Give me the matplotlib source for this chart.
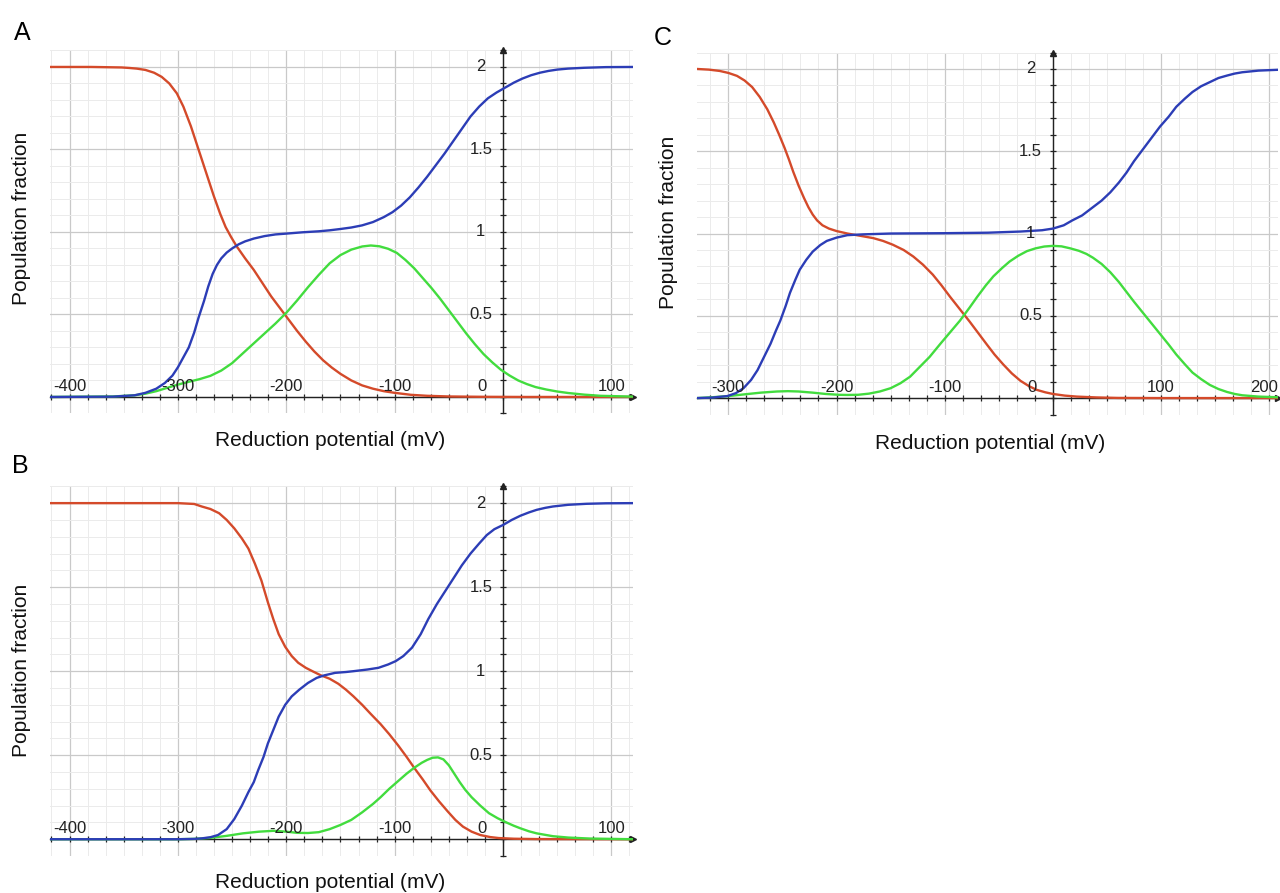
import matplotlib
matplotlib.use("Agg")
import matplotlib.pyplot as plt
from matplotlib.ticker import MultipleLocator

plt.rcParams['font.family'] = ['Liberation Sans', 'DejaVu Sans']

# ---- panel A ----
red_a_x = [-418, -380, -352, -345, -338, -330, -322, -315, -308, -301, -295, -288, -281, -274,
           -267, -261, -256, -251, -246, -238, -230, -222, -214, -206, -198, -190, -182, -174,
           -166, -158, -150, -140, -130, -120, -110, -100, -85, -70, -50, -20, 20, 120]
red_a_y = [2.0, 2.0, 1.997, 1.994, 1.99, 1.982, 1.965, 1.94, 1.90, 1.84, 1.76, 1.64, 1.50, 1.36,
           1.22, 1.11, 1.03, 0.97, 0.915, 0.84, 0.77, 0.69, 0.61, 0.54, 0.47, 0.40, 0.335,
           0.275, 0.222, 0.178, 0.14, 0.10, 0.07, 0.05, 0.035, 0.025, 0.013, 0.007, 0.003,
           0.001, 0.0, 0.0]

blue_a_x = [-418, -360, -340, -330, -320, -312, -305, -300, -295, -290, -285, -281, -276, -272,
            -268, -264, -260, -255, -250, -244, -238, -230, -220, -210, -200, -185, -170, -160,
            -150, -140, -130, -120, -110, -102, -94, -86, -78, -70, -62, -54, -46, -38, -30, -22,
            -14, -6, 2, 10, 18, 26, 34, 42, 50, 60, 75, 95, 120]
blue_a_y = [0.0, 0.002, 0.01, 0.025, 0.05, 0.085, 0.13, 0.18, 0.24, 0.30, 0.39, 0.48, 0.58, 0.67,
            0.745, 0.80, 0.84, 0.875, 0.90, 0.925, 0.943, 0.96, 0.975, 0.985, 0.99, 0.998, 1.004,
            1.01, 1.018, 1.027, 1.04, 1.06, 1.09, 1.12, 1.16, 1.21, 1.27, 1.335, 1.405, 1.475,
            1.55, 1.625, 1.70, 1.76, 1.81, 1.845, 1.875, 1.905, 1.93, 1.95, 1.965, 1.976, 1.984,
            1.99, 1.995, 1.999, 2.0]

green_a_x = [-418, -360, -340, -330, -320, -310, -300, -290, -280, -270, -260, -250, -240, -230,
             -220, -210, -200, -190, -180, -170, -160, -150, -140, -130, -122, -114, -106, -98,
             -90, -82, -74, -66, -58, -50, -42, -34, -26, -18, -10, -2, 6, 14, 22, 30, 40, 50,
             60, 75, 90, 120]
green_a_y = [0.0, 0.003, 0.01, 0.02, 0.035, 0.055, 0.075, 0.092, 0.108, 0.128, 0.16, 0.205, 0.265,
             0.325, 0.385, 0.445, 0.51, 0.585, 0.665, 0.74, 0.81, 0.86, 0.893, 0.912, 0.918,
             0.913, 0.898, 0.873, 0.83, 0.78, 0.72, 0.66, 0.595, 0.525, 0.455, 0.385, 0.32, 0.26,
             0.21, 0.165, 0.13, 0.10, 0.078, 0.06, 0.045, 0.033, 0.024, 0.014, 0.007, 0.002]

# ---- panel B ----
red_b_x = [-418, -300, -285, -278, -270, -262, -255, -248, -241, -235, -229, -223, -217, -212,
           -207, -201, -195, -189, -182, -175, -168, -160, -152, -145, -138, -130, -122, -113,
           -105, -97, -89, -82, -74, -67, -59, -51, -44, -37, -29, -21, -12, -4, 10, 30, 120]
red_b_y = [2.0, 2.0, 1.995, 1.98, 1.965, 1.94, 1.90, 1.85, 1.79, 1.73, 1.64, 1.54, 1.41, 1.31,
           1.22, 1.145, 1.09, 1.05, 1.02, 0.997, 0.975, 0.955, 0.925, 0.89, 0.85, 0.80, 0.745,
           0.685, 0.625, 0.56, 0.49, 0.425, 0.355, 0.29, 0.225, 0.165, 0.115, 0.075, 0.045,
           0.025, 0.013, 0.007, 0.003, 0.001, 0.0]

blue_b_x = [-418, -300, -285, -278, -270, -263, -255, -248, -241, -235, -230, -226, -221, -217,
            -212, -207, -201, -195, -188, -180, -172, -165, -155, -145, -138, -125, -115, -106,
            -99, -92, -84, -76, -69, -61, -54, -46, -38, -30, -22, -15, -8, 0, 8, 16, 24, 31, 39,
            46, 60, 77, 95, 120]
blue_b_y = [0.0, 0.0, 0.002, 0.005, 0.012, 0.025, 0.06, 0.12, 0.20, 0.28, 0.34, 0.41, 0.49, 0.57,
            0.65, 0.73, 0.80, 0.85, 0.89, 0.93, 0.96, 0.975, 0.99, 0.995, 1.0, 1.01, 1.02, 1.04,
            1.06, 1.09, 1.14, 1.22, 1.31, 1.40, 1.47, 1.55, 1.63, 1.70, 1.76, 1.81, 1.845, 1.87,
            1.90, 1.925, 1.945, 1.96, 1.972, 1.98, 1.99, 1.996, 1.999, 2.0]

green_b_x = [-418, -300, -285, -270, -255, -240, -225, -212, -200, -190, -180, -170, -160, -150,
             -140, -130, -120, -113, -105, -97, -89, -82, -75, -70, -65, -60, -55, -50, -45, -40,
             -35, -29, -21, -13, -5, 3, 10, 16, 24, 31, 46, 60, 80, 120]
green_b_y = [0.0, 0.0, 0.002, 0.008, 0.02, 0.035, 0.045, 0.05, 0.045, 0.038, 0.037, 0.042, 0.06,
             0.085, 0.115, 0.16, 0.21, 0.25, 0.30, 0.345, 0.39, 0.425, 0.455, 0.472, 0.485,
             0.487, 0.475, 0.44, 0.39, 0.34, 0.295, 0.25, 0.20, 0.155, 0.125, 0.10, 0.08, 0.065,
             0.047, 0.035, 0.018, 0.01, 0.004, 0.0]

# ---- panel C ----
red_c_x = [-329, -318, -308, -300, -292, -285, -278, -271, -264, -258, -253, -248, -244, -240,
           -235, -230, -226, -222, -218, -213, -207, -200, -190, -178, -166, -157, -148, -138,
           -129, -120, -111, -103, -95, -86, -77, -69, -61, -54, -46, -38, -30, -22, -15, -7, 0,
           11, 22, 40, 60, 100, 208]
red_c_y = [2.0, 1.996, 1.988, 1.976, 1.958, 1.93, 1.89, 1.83, 1.755, 1.675, 1.60, 1.52, 1.45,
           1.375, 1.29, 1.215, 1.16, 1.115, 1.08, 1.05, 1.03, 1.015, 1.0, 0.986, 0.972, 0.955,
           0.932, 0.90, 0.86, 0.81, 0.75, 0.685, 0.615, 0.54, 0.465, 0.395, 0.325, 0.265, 0.205,
           0.15, 0.105, 0.072, 0.05, 0.035, 0.025, 0.015, 0.009, 0.004, 0.001, 0.0, 0.0]

blue_c_x = [-329, -315, -301, -293, -286, -279, -273, -267, -261, -256, -252, -247, -243, -238,
            -234, -228, -222, -215, -209, -200, -190, -175, -150, -100, -60, -30, -10, 0, 10, 18,
            27, 37, 45, 53, 61, 68, 75, 83, 91, 99, 107, 114, 122, 129, 137, 145, 153, 161, 168,
            175, 190, 208]
blue_c_y = [0.0, 0.003, 0.012, 0.03, 0.06, 0.11, 0.17, 0.25, 0.33, 0.41, 0.47, 0.56, 0.64, 0.72,
            0.78, 0.84, 0.89, 0.93, 0.955, 0.975, 0.99, 0.995, 1.0, 1.002, 1.005, 1.012, 1.02,
            1.03, 1.05, 1.08, 1.11, 1.16, 1.20, 1.25, 1.31, 1.37, 1.44, 1.51, 1.58, 1.65, 1.71,
            1.77, 1.82, 1.86, 1.895, 1.92, 1.945, 1.96, 1.972, 1.98, 1.99, 1.995]

green_c_x = [-329, -315, -300, -286, -270, -255, -245, -235, -222, -210, -198, -190, -180, -170,
             -160, -150, -141, -132, -123, -114, -104, -95, -86, -77, -70, -62, -55, -47, -40,
             -32, -24, -16, -8, 0, 8, 16, 24, 31, 37, 45, 53, 61, 68, 75, 83, 91, 99, 107, 114,
             122, 129, 137, 145, 153, 161, 168, 175, 190, 208]
green_c_y = [0.0, 0.005, 0.012, 0.022, 0.033, 0.04, 0.042, 0.04, 0.033, 0.025, 0.02, 0.019, 0.02,
             0.027, 0.04, 0.06, 0.09, 0.13, 0.19, 0.25, 0.33, 0.40, 0.47, 0.55, 0.615, 0.685,
             0.74, 0.79, 0.83, 0.865, 0.893, 0.91, 0.921, 0.925, 0.922, 0.91, 0.895, 0.876,
             0.853, 0.815, 0.765, 0.705, 0.645, 0.585, 0.52, 0.455, 0.39, 0.325, 0.265, 0.205,
             0.155, 0.115, 0.08, 0.055, 0.037, 0.025, 0.017, 0.009, 0.005]

xlabels_ab = [-400, -300, -200, -100, 0, 100]
xlabels_c = [-300, -200, -100, 0, 100, 200]
ylabels = [0.5, 1, 1.5, 2]

RED = '#d44a2a'
BLUE = '#2c3db6'
GREEN = '#42dc3e'


def draw_panel(ax, xlim, reds, blues, greens, xlabels):
    ax.set_xlim(*xlim)
    ax.set_ylim(-0.1, 2.1)
    ax.xaxis.set_major_locator(MultipleLocator(100))
    ax.xaxis.set_minor_locator(MultipleLocator(100 / 6))
    ax.yaxis.set_major_locator(MultipleLocator(0.5))
    ax.yaxis.set_minor_locator(MultipleLocator(0.1))
    ax.grid(which='major', color='#c9c9c9', lw=0.9)
    ax.grid(which='minor', color='#ebebeb', lw=0.7)
    ax.set_axisbelow(True)

    # axes through the origin
    for s in ['top', 'right']:
        ax.spines[s].set_visible(False)
    ax.spines['bottom'].set_position(('data', 0))
    ax.spines['left'].set_position(('data', 0))
    for s in ['bottom', 'left']:
        ax.spines[s].set_linewidth(1.0)
        ax.spines[s].set_color('#222222')
    ax.tick_params(which='both', direction='inout', length=5, width=0.9, color='#222222',
                   labelbottom=False, labelleft=False)
    ax.plot([1], [0], marker='>', color='#222222', ms=5, transform=ax.get_yaxis_transform(),
            clip_on=False)
    ax.plot([0], [1], marker='^', color='#222222', ms=5, transform=ax.get_xaxis_transform(),
            clip_on=False)

    ax.plot(reds[0], reds[1], color=RED, lw=1.7, zorder=3, solid_joinstyle='round')
    ax.plot(greens[0], greens[1], color=GREEN, lw=1.7, zorder=3, solid_joinstyle='round')
    ax.plot(blues[0], blues[1], color=BLUE, lw=1.7, zorder=4, solid_joinstyle='round')

    for v in xlabels:
        dx = -15 if v == 0 else 0
        if v == xlabels[-1] and v > 150:
            dx = -4
        ax.annotate(str(v), (v, 0), xytext=(dx, 2), textcoords='offset points',
                    ha='center', va='bottom', fontsize=12, color='#222222', zorder=5,
                    annotation_clip=False)
    for v in ylabels:
        ax.annotate(str(v), (0, v), xytext=(-16, 0), textcoords='offset points',
                    ha='center', va='center', fontsize=12, color='#222222', zorder=5)


fig = plt.figure(figsize=(12.8, 8.93), dpi=100)
ax_a = fig.add_axes([0.0391, 0.537, 0.4555, 0.4065])
ax_b = fig.add_axes([0.0391, 0.0414, 0.4555, 0.414])
ax_c = fig.add_axes([0.5445, 0.5358, 0.4539, 0.4054])

draw_panel(ax_a, (-418, 120), (red_a_x, red_a_y), (blue_a_x, blue_a_y),
           (green_a_x, green_a_y), xlabels_ab)
draw_panel(ax_b, (-418, 120), (red_b_x, red_b_y), (blue_b_x, blue_b_y),
           (green_b_x, green_b_y), xlabels_ab)
draw_panel(ax_c, (-329, 208), (red_c_x, red_c_y), (blue_c_x, blue_c_y),
           (green_c_x, green_c_y), xlabels_c)

W, H = 1280, 893
lab = dict(fontsize=15, ha='center', va='center', color='#111111')
fig.text(330 / W, 1 - 441 / H, 'Reduction potential (mV)', **lab)
fig.text(330 / W, 1 - 883 / H, 'Reduction potential (mV)', **lab)
fig.text(990 / W, 1 - 444 / H, 'Reduction potential (mV)', **lab)
fig.text(22 / W, 1 - 218 / H, 'Population fraction', rotation=90, **lab)
fig.text(22 / W, 1 - 670 / H, 'Population fraction', rotation=90, **lab)
fig.text(668 / W, 1 - 222 / H, 'Population fraction', rotation=90, **lab)

fig.text(22 / W, 1 - 33 / H, 'A', fontsize=18, ha='center', va='center')
fig.text(20 / W, 1 - 466 / H, 'B', fontsize=18, ha='center', va='center')
fig.text(663 / W, 1 - 38 / H, 'C', fontsize=18, ha='center', va='center')

fig.savefig('out.png', dpi=100)
